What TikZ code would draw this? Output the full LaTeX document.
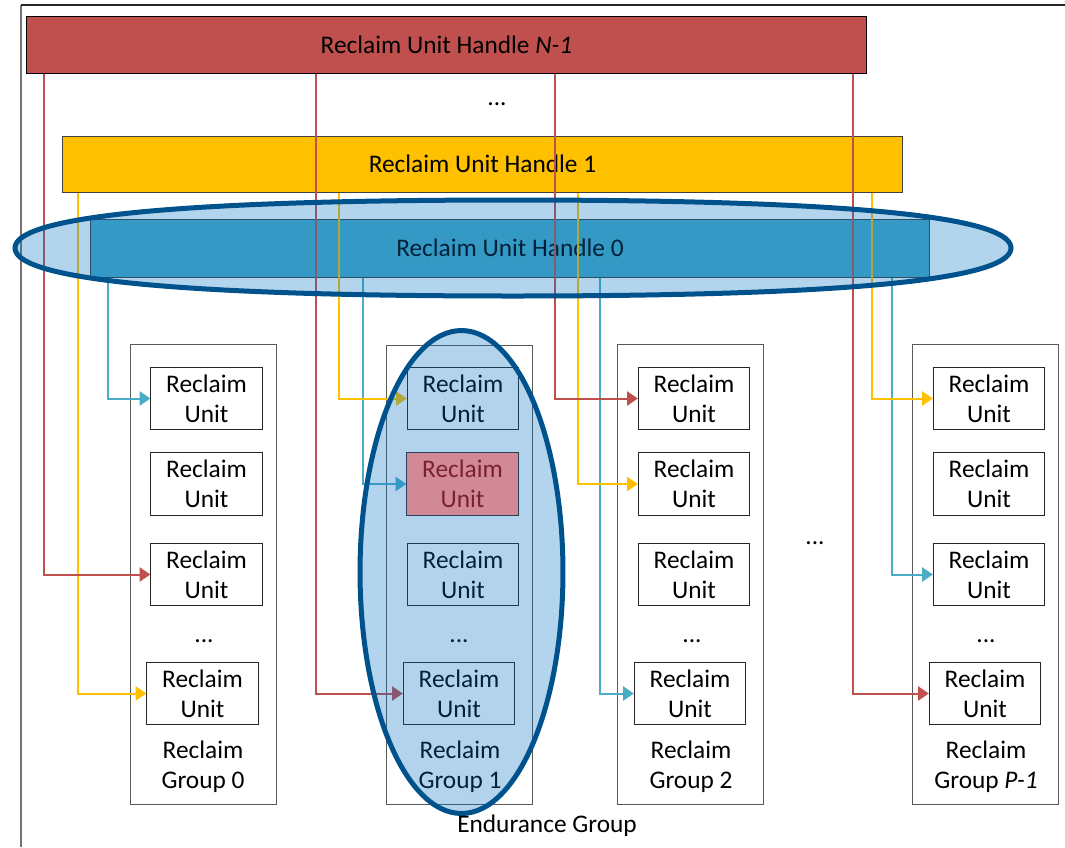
\documentclass[tikz,border=0pt]{standalone}
\usepackage{fontspec}
\setmainfont{Carlito}
\usetikzlibrary{arrows.meta}
\definecolor{rhred}{RGB}{192,80,77}
\definecolor{rhyel}{RGB}{255,192,0}
\definecolor{rhblue}{RGB}{75,172,198}
\definecolor{ovfill}{RGB}{0,112,192}
\definecolor{ovstroke}{RGB}{0,82,140}
\definecolor{rupink}{RGB}{209,136,151}
\definecolor{rutext}{RGB}{122,32,48}
\definecolor{ruedge}{RGB}{45,62,88}
\begin{document}
\begin{tikzpicture}[x=0.75pt,y=-0.75pt,
  every node/.style={font=\fontsize{19}{22.4}\selectfont},
  handle/.style={rectangle,inner sep=0pt,line width=0.75pt,minimum width=629.5pt,minimum height=42.75pt},
  ru/.style={rectangle,draw=black!85,line width=0.75pt,fill=white,inner sep=0pt,align=center,
             minimum width=83.5pt,minimum height=47pt},
  grp/.style={rectangle,draw=black!65,line width=0.75pt,fill=white,inner sep=0pt,
             minimum width=109.5pt,minimum height=344.5pt},
  lab/.style={align=center,inner sep=0pt},
  conn/.style={line width=1.5pt,-{Triangle[length=8pt,width=10.5pt]}},
  egshade/.style={fill=ovfill,fill opacity=0.3,draw=ovstroke,line width=3.75pt}]
\useasboundingbox (0,0) rectangle (1065,847);
% frame
\draw[black!55,line width=0.9pt] (21,847) -- (21,5);
\draw[black!85,line width=0.9pt] (21,5) -- (1065,5);
% handles
\node[handle,fill=rhred,draw=black] (RN) at (446.5,44.5) {Reclaim Unit Handle \textit{N-1}};
\node (topdots) at (497,104) {...};
\node[handle,fill=rhyel,draw=black!75,minimum height=42pt] (R1) at (482.5,164) {Reclaim Unit Handle 1};
\node[handle,fill=rhblue,draw=black!75,minimum height=43.5pt] (R0) at (510,248) {Reclaim Unit Handle 0};
% groups
\node[grp] (g0) at (203,574.5) {};
\node[grp] (g1) at (459.5,575) {};
\node[grp] (g2) at (690.5,574.5) {};
\node[grp] (gP) at (985,574.5) {};
% group 0
\node[ru] (g0u1) at (206.5,398.5) {Reclaim\\Unit};
\node[ru] (g0u2) at (206.5,484) {Reclaim\\Unit};
\node[ru] (g0u3) at (206.5,574.5) {Reclaim\\Unit};
\node (g0d) at (204,641) {...};
\node[ru] (g0u4) at (202.5,693.5) {Reclaim\\Unit};
\node[lab] (g0l) at (203,767) {Reclaim\\Group 0};
% group 1
\node[ru] (g1u1) at (463,398.5) {Reclaim\\Unit};
\node[ru] (g1u2) at (462.5,484) {};
\node[ru] (g1u3) at (463,574.5) {Reclaim\\Unit};
\node (g1d) at (459,641) {...};
\node[ru] (g1u4) at (459,693.5) {Reclaim\\Unit};
\node[lab] (g1l) at (460,767) {Reclaim\\Group 1};
% group 2
\node[ru] (g2u1) at (694,398.5) {Reclaim\\Unit};
\node[ru] (g2u2) at (694,484) {Reclaim\\Unit};
\node[ru] (g2u3) at (694,574.5) {Reclaim\\Unit};
\node (g2d) at (692,641) {...};
\node[ru] (g2u4) at (690,693.5) {Reclaim\\Unit};
\node[lab] (g2l) at (691,767) {Reclaim\\Group 2};
% group P-1
\node[ru] (gPu1) at (989,398.5) {Reclaim\\Unit};
\node[ru] (gPu2) at (989,484) {Reclaim\\Unit};
\node[ru] (gPu3) at (989,574.5) {Reclaim\\Unit};
\node (gPd) at (986,641) {...};
\node[ru] (gPu4) at (985,693.5) {Reclaim\\Unit};
\node[lab] (gPl) at (986,767) {Reclaim\\Group \textit{P-1}};
\node (middots) at (815,543) {...};
% connector columns
\coordinate (xr0) at (44,0);  \coordinate (xr1) at (316,0);
\coordinate (xr2) at (555,0); \coordinate (xr3) at (853,0);
\coordinate (xy0) at (78,0);  \coordinate (xy1) at (339,0);
\coordinate (xy2) at (578,0); \coordinate (xy3) at (872,0);
\coordinate (xb0) at (108,0); \coordinate (xb1) at (363,0);
\coordinate (xb2) at (600,0); \coordinate (xb3) at (892,0);
% blue (handle 0)
\draw[conn,color=rhblue] (R0.south -| xb0) |- (g0u1.west);
\draw[conn,color=rhblue] (R0.south -| xb1) |- (g1u2.west);
\draw[conn,color=rhblue] (R0.south -| xb2) |- (g2u4.west);
\draw[conn,color=rhblue] (R0.south -| xb3) |- (gPu3.west);
% yellow (handle 1)
\draw[conn,color=rhyel] (R1.south -| xy0) |- (g0u4.west);
\draw[conn,color=rhyel] (R1.south -| xy1) |- (g1u1.west);
\draw[conn,color=rhyel] (R1.south -| xy2) |- (g2u2.west);
\draw[conn,color=rhyel] (R1.south -| xy3) |- (gPu1.west);
% red (handle N-1)
\draw[conn,color=rhred] (RN.south -| xr0) |- (g0u3.west);
\draw[conn,color=rhred] (RN.south -| xr1) |- (g1u4.west);
\draw[conn,color=rhred] (RN.south -| xr2) |- (g2u1.west);
\draw[conn,color=rhred] (RN.south -| xr3) |- (gPu4.west);
% highlight shapes
\draw[egshade] (15,248) .. controls (15,221.6) and (129.5,200) .. (513,200)
  .. controls (896.5,200) and (1011,221.6) .. (1011,248)
  .. controls (1011,274.4) and (896.5,296) .. (513,296)
  .. controls (129.5,296) and (15,274.4) .. (15,248) -- cycle;
\draw[egshade] (461.5,572) ellipse [x radius=76.1pt, y radius=181.1pt];
% highlighted reclaim unit
\node[ru,fill=rupink,draw=ruedge,text=rutext] (g1u2h) at (462.5,484) {Reclaim\\Unit};
\node[anchor=base] (eg) at (547,832) {Endurance Group};
\end{tikzpicture}
\end{document}
